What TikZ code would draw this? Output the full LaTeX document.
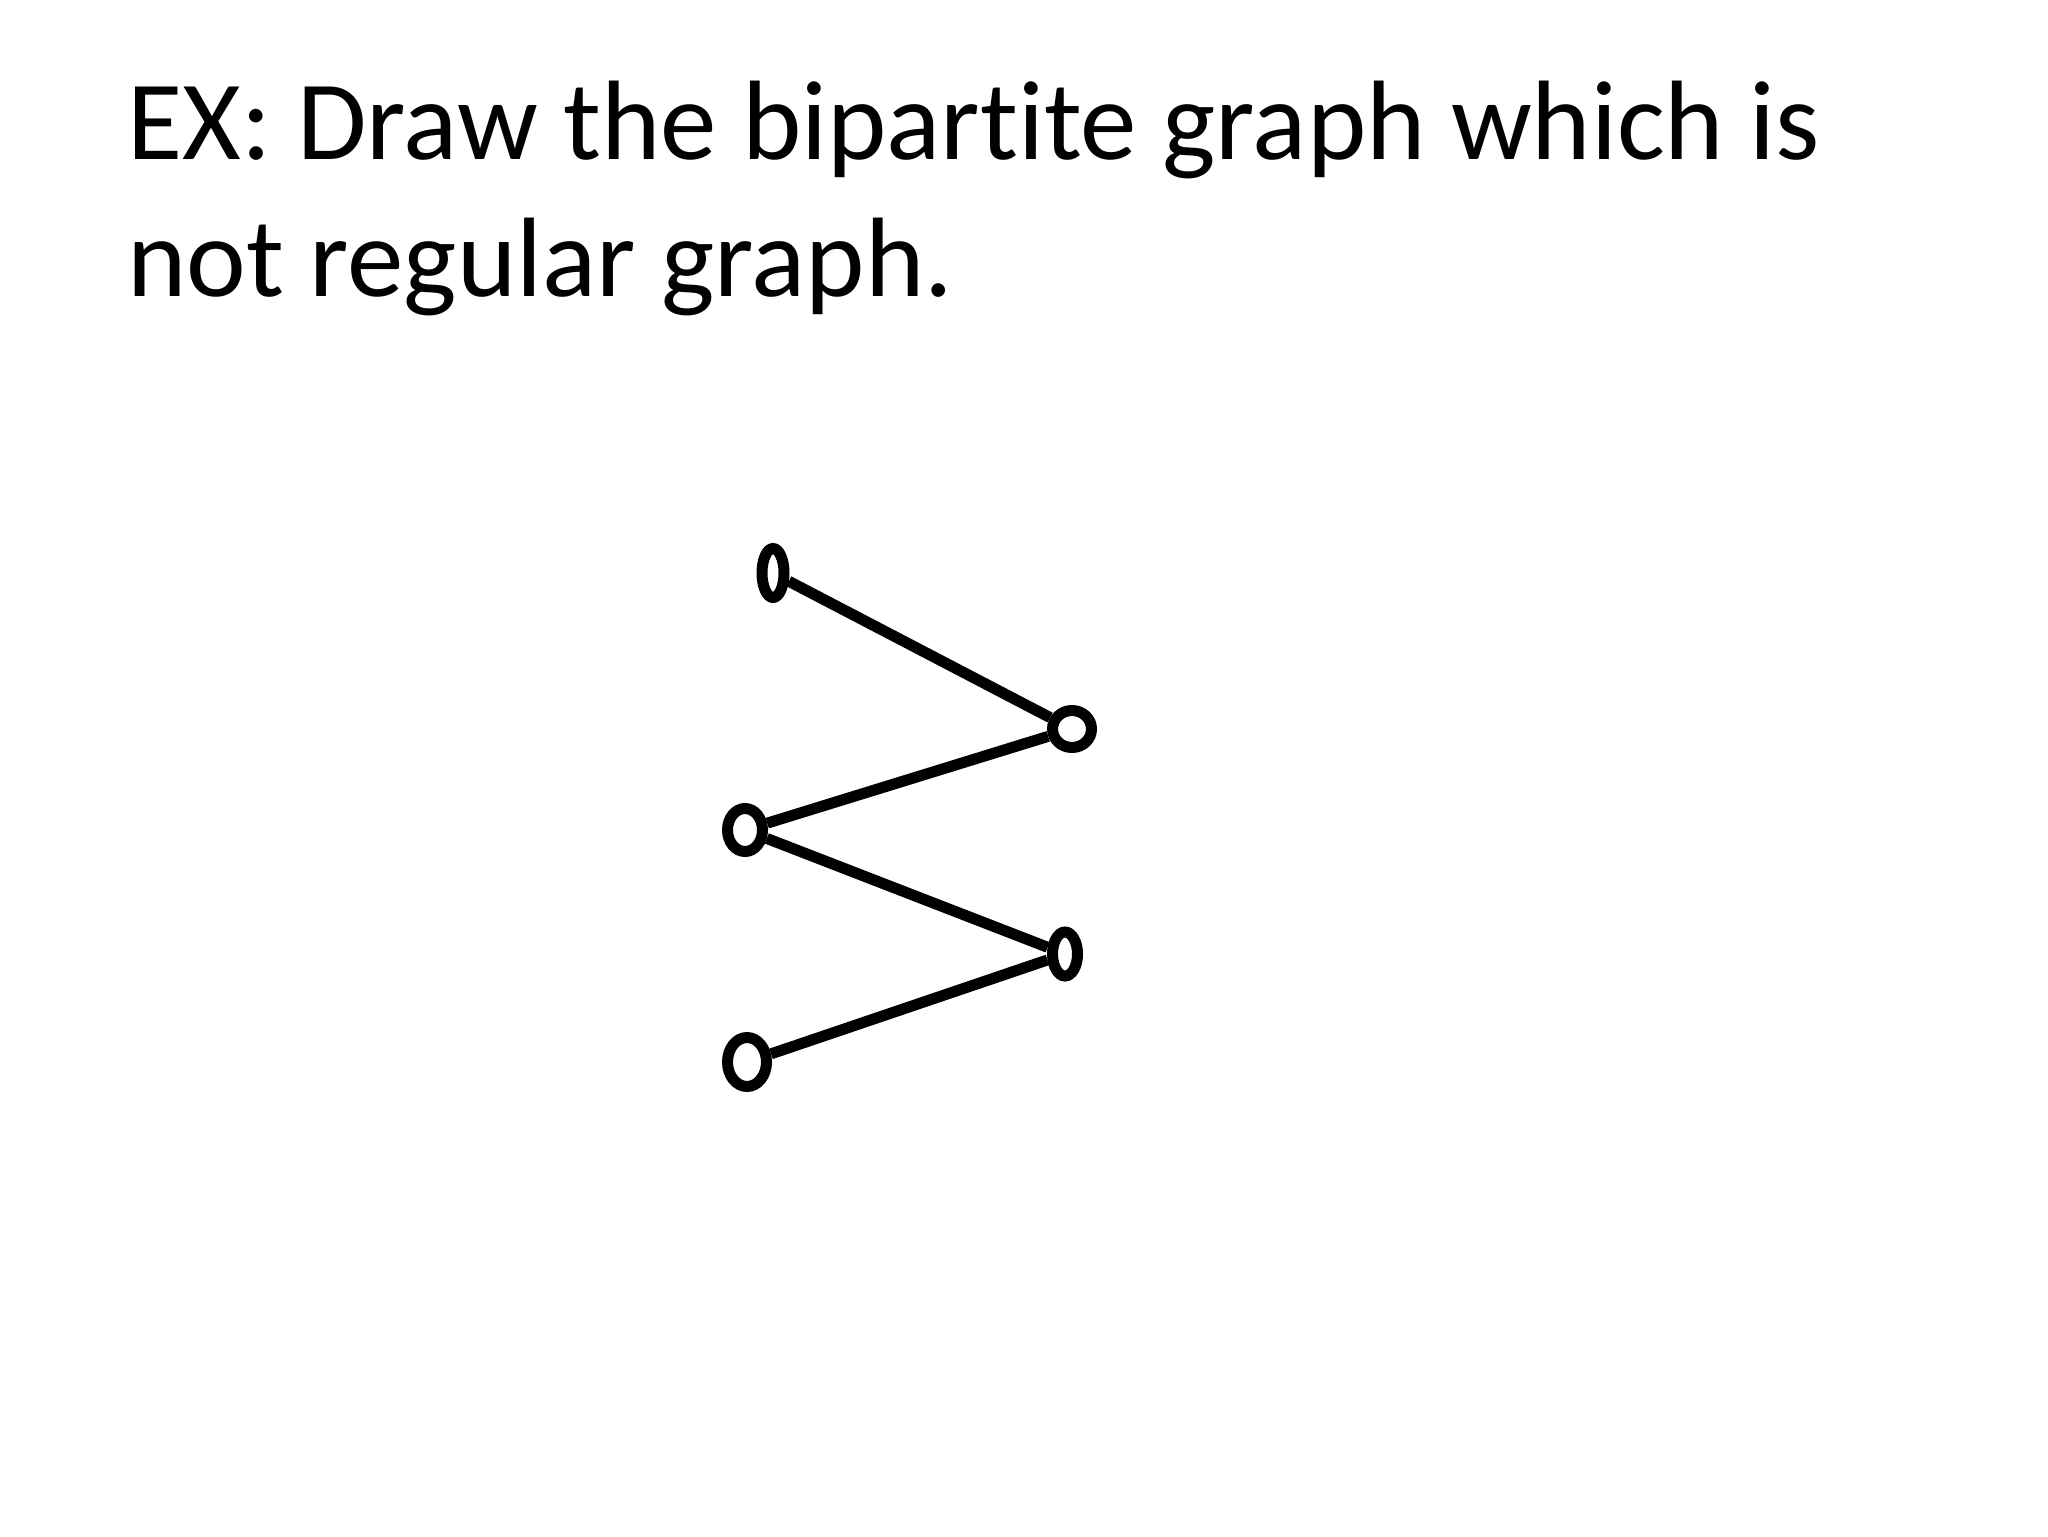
\documentclass[tikz,border=0pt]{standalone}
\usepackage{fontspec}
\setmainfont{Carlito}[Ligatures=NoCommon]
\usetikzlibrary{shapes.geometric}
\begin{document}
\begin{tikzpicture}[x=0.5pt,y=-0.5pt,
  vtx/.style={draw=black,ellipse,line width=5.5pt,inner sep=0pt,fill=white},
  edge/.style={draw=black,line width=5.5pt},
  title/.style={anchor=base west,inner sep=0pt,font=\fontsize{56.5pt}{68.5pt}\selectfont,align=left}]
\useasboundingbox (0,0) rectangle (2048,1536);
\node[title] (t1) at (127,159) {EX: Draw the bipartite graph which is};
\node[title] (t2) at (127,296) {not regular graph.};
\node[vtx,minimum width=11pt,minimum height=24.5pt] (a) at (773,573) {};
\node[vtx,minimum width=19.5pt,minimum height=18.5pt] (b) at (1072,729) {};
\node[vtx,minimum width=17.5pt,minimum height=21.5pt] (c) at (745,830) {};
\node[vtx,minimum width=12.5pt,minimum height=22pt] (d) at (1065,954) {};
\node[vtx,minimum width=19.5pt,minimum height=24.5pt] (e) at (747,1062) {};
\draw[edge] (a) -- (b);
\draw[edge] (b) -- (c);
\draw[edge] (c) -- (d);
\draw[edge] (d) -- (e);
\end{tikzpicture}
\end{document}
